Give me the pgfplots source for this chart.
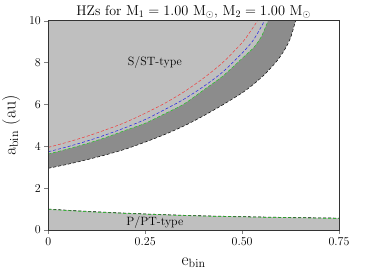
\documentclass[border=0pt]{standalone}
\usepackage{pgfplots}
\pgfplotsset{compat=1.18}
\definecolor{lgrey}{RGB}{191,191,191}
\definecolor{dgrey}{RGB}{140,140,140}
\definecolor{lred}{RGB}{240,60,60}
\definecolor{lblue}{RGB}{30,30,230}
\definecolor{lgreen}{RGB}{30,200,30}

\pgfplotstableread{
e a
0 2.95
0.05 3.14
0.1 3.36
0.15 3.60
0.2 3.87
0.25 4.20
0.3 4.56
0.35 4.97
0.4 5.45
0.45 5.98
0.5 6.55
0.53 6.97
0.56 7.47
0.59 8.08
0.61 8.62
0.625 9.18
0.638 10
}\outercurve

\pgfplotstableread{
e a
0 3.63
0.05 3.87
0.1 4.13
0.15 4.43
0.2 4.77
0.25 5.10
0.3 5.55
0.35 6.02
0.4 6.68
0.45 7.35
0.5 8.20
0.53 8.72
0.55 9.25
0.567 10
}\greencurve

\pgfplotstableread{
e a
0 3.74
0.05 3.98
0.1 4.25
0.15 4.56
0.2 4.90
0.25 5.28
0.3 5.75
0.35 6.25
0.4 6.85
0.45 7.55
0.5 8.45
0.53 9.10
0.558 10
}\bluecurve

\pgfplotstableread{
e a
0 3.95
0.05 4.20
0.1 4.48
0.15 4.80
0.2 5.15
0.25 5.58
0.3 6.05
0.35 6.60
0.4 7.25
0.45 8.00
0.5 8.95
0.52 9.45
0.54 10
}\redcurve

\pgfplotstableread{
e a
0 1.00
0.125 0.87
0.25 0.77
0.375 0.69
0.5 0.64
0.625 0.60
0.75 0.57
}\ptype

\pgfplotstableread{
e a
0 0.98
0.125 0.85
0.25 0.755
0.375 0.675
0.5 0.625
0.625 0.585
0.75 0.55
}\ptypegreen

\begin{document}
\begin{tikzpicture}
\useasboundingbox (-48.3pt,-50pt) rectangle (325.7pt,230pt);
\begin{axis}[
  scale only axis, width=290.7pt, height=209.3pt,
  xmin=0, xmax=0.75, ymin=0, ymax=10,
  xtick={0,0.25,0.5,0.75}, xticklabels={0,0.25,0.50,0.75},
  ytick={0,2,4,6,8,10},
  tick align=outside, xtick pos=bottom, ytick pos=left,
  major tick length=4pt,
  ticklabel style={font=\fontsize{12}{14}\selectfont},
  axis line style={black!80},
  title={HZs for $\mathrm{M}_1 = 1.00\ \mathrm{M}_\odot$, $\mathrm{M}_2 = 1.00\ \mathrm{M}_\odot$},
  title style={font=\fontsize{14}{16}\selectfont, yshift=-7pt},
  xlabel={$\mathrm{e_{bin}}$},
  ylabel={$\mathrm{a_{bin}}$ (au)},
  xlabel style={font=\fontsize{18}{20}\selectfont, yshift=-5pt},
  ylabel style={font=\fontsize{18}{20}\selectfont, yshift=2pt},
  axis on top,
]
\addplot[fill=dgrey, draw=none] table[x=e,y=a] {\outercurve} -- (axis cs:0,10) -- cycle;
\addplot[fill=lgrey, draw=none] table[x=e,y=a] {\greencurve} -- (axis cs:0,10) -- cycle;
\addplot[fill=lgrey, draw=none] table[x=e,y=a] {\ptype} \closedcycle;

\addplot[black, densely dashed, line width=0.5pt, smooth] table[x=e,y=a] {\outercurve};
\addplot[lred, densely dashed, line width=0.5pt, smooth] table[x=e,y=a] {\redcurve};
\addplot[lblue, densely dashed, line width=0.5pt, smooth] table[x=e,y=a] {\bluecurve};
\addplot[lgreen, densely dashed, line width=0.5pt, smooth] table[x=e,y=a] {\greencurve};
\addplot[black, densely dashed, line width=0.5pt, smooth] table[x=e,y=a] {\ptype};
\addplot[lgreen, densely dashed, line width=0.5pt, smooth] table[x=e,y=a] {\ptypegreen};

\node[font=\fontsize{12}{14}\selectfont] at (axis cs:0.275,8.0) {S/ST-type};
\node[font=\fontsize{12}{14}\selectfont] at (axis cs:0.275,0.36) {P/PT-type};
\draw[gray!70] (rel axis cs:0,1) -- (rel axis cs:1,1);
\end{axis}
\end{tikzpicture}
\end{document}
